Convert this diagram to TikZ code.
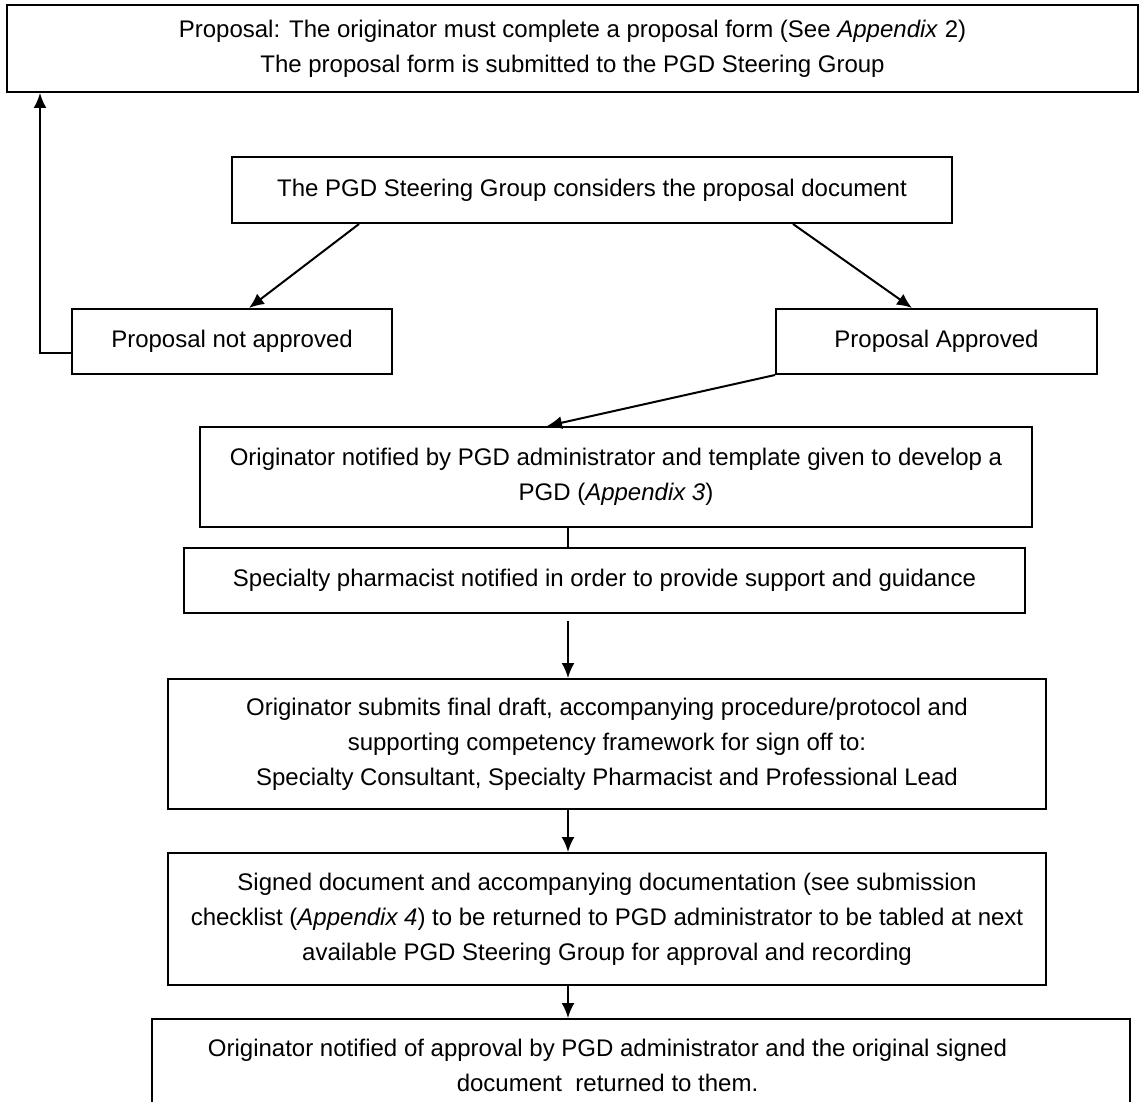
\documentclass[tikz,border=0pt]{standalone}
\usepackage{fontspec}
\setmainfont{Liberation Sans}
\usetikzlibrary{arrows.meta,calc}
\begin{document}
\begin{tikzpicture}[x=1pt,y=-1pt]
% Styles
\tikzstyle{boite}=[draw,line width=2pt,inner sep=0pt,align=center,font=\fontsize{24}{35}\selectfont]
\tikzstyle{fleche}=[-{Latex[length=15pt,width=13pt]},line width=2pt]
\tikzstyle{trait}=[-,line width=2pt]
% Cadre
\clip (0,0) rectangle (1145,1102);
\coordinate (axe) at (568,0);
\coordinate (retour) at (40,0);
% Noeuds
\node[boite,minimum width=1131pt,minimum height=87pt] (P) at (572.5,48.5)
  {Proposal: The originator must complete a proposal form (See \textit{Appendix} 2)\\
   The proposal form is submitted to the PGD Steering Group};
\node[boite,minimum width=720pt,minimum height=66pt] (S) at (592,190)
  {The PGD Steering Group considers the proposal document};
\node[boite,minimum width=320pt,minimum height=65pt] (N) at (232,341.5)
  {Proposal not approved};
\node[boite,minimum width=321pt,minimum height=65pt] (A) at (936.5,341.5)
  {Proposal Approved};
\node[boite,minimum width=832pt,minimum height=100pt] (O) at (616,477)
  {Originator notified by PGD administrator and template given to develop a\\
   PGD (\textit{Appendix 3})};
\node[boite,minimum width=841pt,minimum height=65pt] (SP) at (604.5,580.5)
  {Specialty pharmacist notified in order to provide support and guidance};
\node[boite,minimum width=878pt,minimum height=130pt] (F) at (607,744)
  {Originator submits final draft, accompanying procedure/protocol and\\
   supporting competency framework for sign off to:\\
   Specialty Consultant, Specialty Pharmacist and Professional Lead};
\node[boite,minimum width=878pt,minimum height=132pt] (D) at (607,919)
  {Signed document and accompanying documentation (see submission\\
   checklist (\textit{Appendix 4}) to be returned to PGD administrator to be tabled at next\\
   available PGD Steering Group for approval and recording};
\node[boite,minimum width=978pt,minimum height=93pt] (R) at (641,1065.5)
  {Originator notified of approval by PGD administrator and the original signed\hspace*{67pt}\\
   document~ returned to them.\hspace*{67pt}};
% Arcs
\draw[fleche] ([xshift=128pt]S.south west)--([xshift=178pt]N.north west);
\draw[fleche] ([xshift=-160pt]S.south east)--([xshift=137pt]A.north west);
\draw[fleche] ([yshift=-11.5pt]N.west) -| (P.south -| retour);
\draw[fleche] (A.south west)--([xshift=348pt]O.north west);
\draw[trait] (O.south -| axe)--(SP.north -| axe);
\draw[fleche] ($(SP.south -| axe)+(0,7)$)--(F.north -| axe);
\draw[fleche] (F.south -| axe)--(D.north -| axe);
\draw[fleche] (D.south -| axe)--(R.north -| axe);
\end{tikzpicture}
\end{document}
